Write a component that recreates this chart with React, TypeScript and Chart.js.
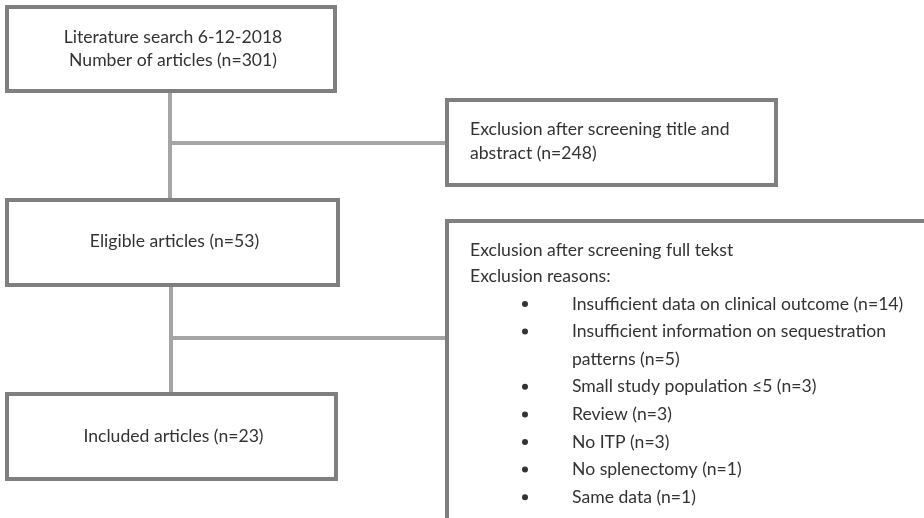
import React, { useEffect, useRef } from "react";
import { Chart, registerables } from "chart.js";

Chart.register(...registerables);

// ---- data ----
const searchDate = "6-12-2018";
const stageLabels = ["Number of articles", "Eligible articles", "Included articles"];
const stageCounts = [301, 53, 23];
const exclusionLabels = ["Exclusion after screening title and\nabstract", "Exclusion after screening full tekst"];
const exclusionCounts = [248, 30];
const reasonHeader = "Exclusion reasons:";
const reasonLabels = [
  "Insufficient data on clinical outcome",
  "Insufficient information on sequestration\npatterns",
  "Small study population ≤5",
  "Review",
  "No ITP",
  "No splenectomy",
  "Same data",
];
const reasonCounts = [14, 5, 3, 3, 3, 1, 1];

// ---- layout (scale units = pixels of a 924x518 canvas) ----
const W = 924;
const H = 518;
const stageBoxes = [
  { x0: 7, x1: 335, y0: 7, y1: 91 },
  { x0: 7, x1: 338, y0: 200, y1: 285 },
  { x0: 7, x1: 336, y0: 394, y1: 479 },
];
const exclBoxes = [
  { x0: 447, x1: 776, y0: 100, y1: 185 },
  { x0: 447, x1: 940, y0: 221, y1: 540 },
];
const connectors = [
  { x: 170, yTop: 91, yBot: 200, yBranch: 143, xEnd: 447 },
  { x: 171, yTop: 285, yBot: 394, yBranch: 338, xEnd: 447 },
];

const FONT = "400 17.6px Lato, 'Open Sans', sans-serif";
const TEXT = "#333333";
const BOX = "#7f7f7f";
const LINK = "#a5a5a5";

const flowPlugin = {
  id: "flow",
  afterDraw(chart: any) {
    const ctx = chart.ctx as CanvasRenderingContext2D;
    const xs = chart.scales.x;
    const ys = chart.scales.y;
    const px = (v: number) => xs.getPixelForValue(v);
    const py = (v: number) => ys.getPixelForValue(v);

    ctx.save();
    // connectors
    ctx.strokeStyle = LINK;
    ctx.lineWidth = 4;
    ctx.lineCap = "butt";
    connectors.forEach((c) => {
      ctx.beginPath();
      ctx.moveTo(px(c.x), py(c.yTop));
      ctx.lineTo(px(c.x), py(c.yBot));
      ctx.moveTo(px(c.x), py(c.yBranch));
      ctx.lineTo(px(c.xEnd), py(c.yBranch));
      ctx.stroke();
    });

    // boxes
    const drawBox = (b: any) => {
      const x = px(b.x0), y = py(b.y0);
      const w = px(b.x1) - x, h = py(b.y1) - y;
      ctx.fillStyle = "#ffffff";
      ctx.fillRect(x, y, w, h);
      ctx.strokeStyle = BOX;
      ctx.lineWidth = 4;
      ctx.strokeRect(x, y, w, h);
    };
    stageBoxes.forEach(drawBox);
    exclBoxes.forEach(drawBox);

    ctx.fillStyle = TEXT;
    ctx.font = FONT;
    ctx.textBaseline = "alphabetic";

    // stage texts (centered)
    ctx.textAlign = "center";
    const cx = (b: any) => px((b.x0 + b.x1) / 2) + 2;
    ctx.fillText("Literature search " + searchDate, cx(stageBoxes[0]), py(43));
    ctx.fillText(`${stageLabels[0]} (n=${stageCounts[0]})`, cx(stageBoxes[0]), py(66));
    ctx.fillText(`${stageLabels[1]} (n=${stageCounts[1]})`, cx(stageBoxes[1]), py(247));
    ctx.fillText(`${stageLabels[2]} (n=${stageCounts[2]})`, cx(stageBoxes[2]), py(442));

    // exclusion 1
    ctx.textAlign = "left";
    const e1 = `${exclusionLabels[0]} (n=${exclusionCounts[0]})`.split("\n");
    e1.forEach((t, i) => ctx.fillText(t, px(470), py(135 + i * 24)));

    // exclusion 2
    ctx.fillText(exclusionLabels[1], px(470), py(256));
    ctx.fillText(reasonHeader, px(470), py(282));
    let line = 0;
    const base = 309.5;
    const step = 27.6;
    reasonLabels.forEach((lab, i) => {
      const parts = `${lab} (n=${reasonCounts[i]})`.split("\n");
      const yb = base + line * step;
      ctx.beginPath();
      ctx.arc(px(525), py(yb - 5.5), 3, 0, Math.PI * 2);
      ctx.fill();
      parts.forEach((p, j) => ctx.fillText(p, px(572), py(yb + j * step)));
      line += parts.length;
    });
    ctx.restore();
  },
};

export default function App() {
  const ref = useRef<HTMLCanvasElement | null>(null);
  useEffect(() => {
    document.body.style.margin = "0";
    if (!ref.current) return;
    const chart = new Chart(ref.current, {
      type: "scatter",
      data: { datasets: [{ data: [], pointRadius: 0 }] },
      options: {
        animation: false,
        responsive: false,
        maintainAspectRatio: false,
        layout: { padding: 0 },
        plugins: { legend: { display: false }, tooltip: { enabled: false } },
        scales: {
          x: { type: "linear", min: 0, max: W, display: false },
          y: { type: "linear", min: 0, max: H, reverse: true, display: false },
        },
      },
      plugins: [flowPlugin],
    });
    return () => chart.destroy();
  }, []);
  return (
    <div style={{ width: W, height: H, background: "#fff" }}>
      <canvas ref={ref} width={W} height={H} style={{ display: "block" }} />
    </div>
  );
}
